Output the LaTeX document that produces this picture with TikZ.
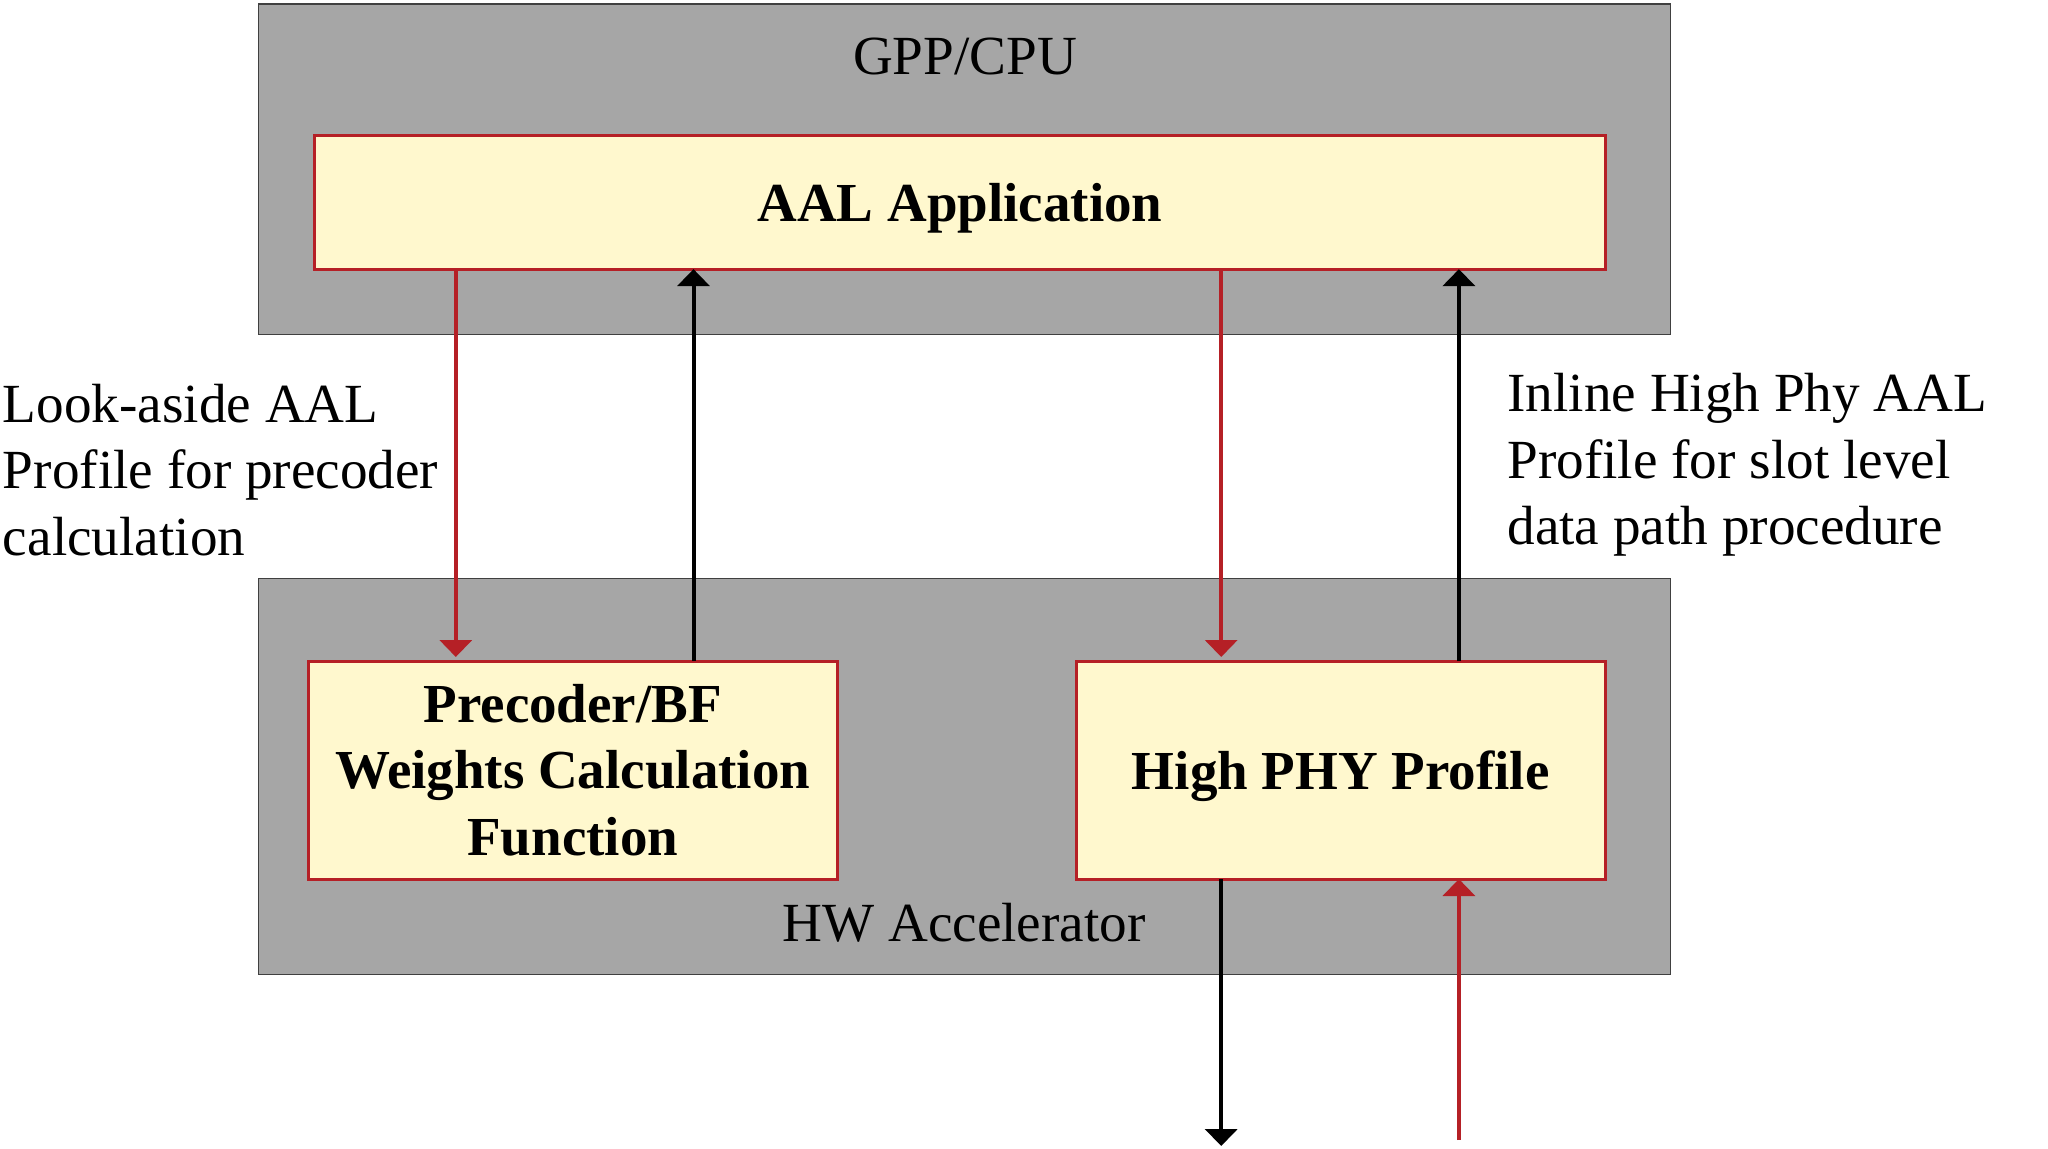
\documentclass[tikz,border=0pt]{standalone}
\usepackage{fontspec}
\setmainfont{Liberation Serif}
\usetikzlibrary{arrows.meta}
\definecolor{boxgray}{HTML}{A6A6A6}
\definecolor{boxyellow}{HTML}{FFF8CE}
\definecolor{boxred}{HTML}{B52026}
\definecolor{edgegray}{HTML}{404040}
\tikzset{
  container/.style={draw=edgegray, line width=0.6pt, fill=boxgray, inner sep=0pt, outer sep=0pt},
  block/.style={draw=boxred, line width=1.5pt, fill=boxyellow, inner sep=0pt, outer sep=0pt,
    align=center, font=\fontsize{27.5}{33.3}\selectfont\bfseries},
  lbl/.style={inner sep=0pt, font=\fontsize{27.6}{33.3}\selectfont},
  redarrow/.style={draw=boxred, line width=1.8pt, -{Triangle[width=16pt,length=8.5pt]}},
  blackarrow/.style={draw=black, line width=2pt, -{Triangle[width=16pt,length=8.5pt]}},
}
\begin{document}
\begin{tikzpicture}[x=0.5pt,y=-0.5pt]
\useasboundingbox (0,0) rectangle (2048,1149);
% containers
\node[container, minimum width=706pt, minimum height=165.25pt] (gpp) at (964.5,169.2) {};
\node[container, minimum width=706pt, minimum height=197.9pt] (hw) at (964.5,776.5) {};
% labels in containers
\node[lbl] (gpplbl) at (965,57) {GPP/CPU};
\node[lbl] (hwlbl) at (964,923) {HW Accelerator};
% blocks
\node[block, text depth=0pt, minimum width=645.2pt, minimum height=66.65pt] (aal) at (960,202.5) {AAL Application};
\node[block, minimum width=264.5pt, minimum height=109pt] (pre) at (572.7,770) {Precoder/BF\\Weights Calculation\\Function};
\node[block, text depth=0pt, minimum width=264.5pt, minimum height=109pt] (hp) at (1340.7,770) {High PHY Profile};
% arrow x positions
\coordinate (xa) at (455.8,0);
\coordinate (xb) at (693.5,0);
\coordinate (xc) at (1221.2,0);
\coordinate (xd) at (1458.9,0);
\coordinate (outend) at (1221.2,1146);
\coordinate (instart) at (1458.9,1140);
% connectors
\draw[redarrow, shorten >=2pt] (aal.south -| xa) -- (pre.north -| xa);
\draw[blackarrow] (pre.north -| xb) -- (aal.south -| xb);
\draw[redarrow, shorten >=2pt] (aal.south -| xc) -- (hp.north -| xc);
\draw[blackarrow] (hp.north -| xd) -- (aal.south -| xd);
\draw[blackarrow] (hp.south -| xc) -- (outend);
\draw[redarrow] (instart) -- (hp.south -| xd);
% side labels
\node[lbl, anchor=west, align=left] (lookaside) at (2.6,470) {Look-aside AAL\\Profile for precoder\\calculation};
\node[lbl, anchor=west, align=left] (inline) at (1507,465) {Inline High Phy AAL\\Profile for slot level\\data path procedure};
\end{tikzpicture}
\end{document}
